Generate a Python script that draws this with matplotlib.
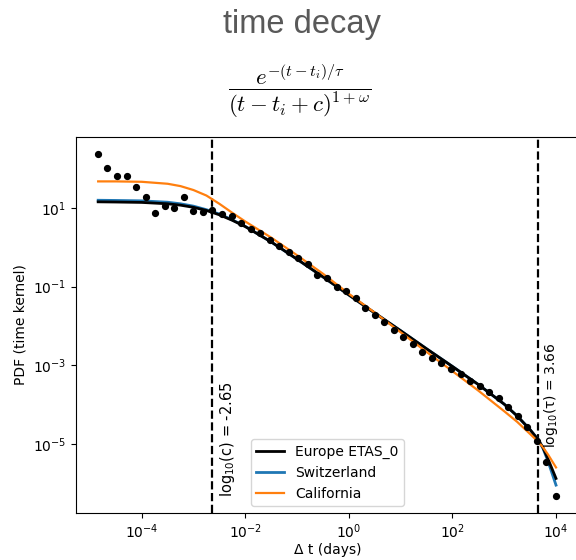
import numpy as np
import matplotlib
matplotlib.use("Agg")
import matplotlib.pyplot as plt

# ---------------- data (log10 values) ----------------
obs_logx = [-4.844, -4.660, -4.476, -4.291, -4.107, -3.923, -3.739, -3.554, -3.370,
            -3.186, -3.002, -2.817, -2.633, -2.449, -2.265, -2.080, -1.896, -1.712,
            -1.528, -1.343, -1.159, -0.975, -0.791, -0.606, -0.422, -0.238, -0.054,
            0.131, 0.315, 0.499, 0.683, 0.868, 1.052, 1.236, 1.420, 1.605, 1.789,
            1.973, 2.157, 2.342, 2.526, 2.710, 2.894, 3.079, 3.263, 3.447, 3.631,
            3.816, 4.000]
obs_logy = [2.37, 2.03, 1.82, 1.81, 1.54, 1.29, 0.865, 1.05, 1.01,
            1.29, 0.915, 0.90, 0.95, 0.85, 0.79, 0.63, 0.48, 0.355,
            0.20, 0.033, -0.12, -0.28, -0.43, -0.70, -0.78, -1.01, -1.10,
            -1.30, -1.55, -1.73, -1.90, -2.11, -2.28, -2.47, -2.66, -2.81, -2.93,
            -3.10, -3.23, -3.39, -3.52, -3.69, -3.84, -4.06, -4.28, -4.58, -4.92,
            -5.45, -6.32]

curve_logx = [-4.84, -4.5, -4.0, -3.5, -3.25, -3.0, -2.75, -2.5, -2.25, -2.0,
              -1.5, -1.0, -0.5, 0.0, 0.5, 1.0, 1.5, 2.0, 2.5, 3.0, 3.25, 3.5,
              3.66, 3.75, 3.85, 4.0]
europe_logy = [1.16, 1.155, 1.145, 1.11, 1.075, 1.02, 0.94, 0.83, 0.69, 0.53,
               0.14, -0.30, -0.75, -1.21, -1.67, -2.12, -2.58, -3.03, -3.49, -3.99,
               -4.29, -4.64, -4.90, -5.10, -5.40, -5.88]
swiss_logy = [1.20, 1.195, 1.185, 1.15, 1.11, 1.05, 0.96, 0.85, 0.70, 0.535,
              0.14, -0.30, -0.75, -1.21, -1.67, -2.12, -2.58, -3.03, -3.49, -3.99,
              -4.29, -4.64, -4.90, -5.12, -5.46, -6.05]
calif_logy = [1.68, 1.68, 1.67, 1.62, 1.56, 1.46, 1.32, 1.11, 0.88, 0.66,
              0.25, -0.20, -0.67, -1.18, -1.66, -2.16, -2.66, -3.15, -3.645, -4.17,
              -4.44, -4.75, -4.95, -5.09, -5.28, -5.60]

log_c = -2.65
log_tau = 3.66
series_labels = ["Europe ETAS_0", "Switzerland", "California"]

# ---------------- figure ----------------
fig = plt.figure(figsize=(5.76, 5.6), dpi=100)
ax = fig.add_axes([76 / 576, 1 - 513 / 560, (579 - 76) / 576, (513 - 137) / 560])

cx = np.power(10.0, curve_logx)
ax.plot(cx, np.power(10.0, europe_logy), color="black", lw=2, label=series_labels[0],
        zorder=2.3)
ax.plot(cx, np.power(10.0, swiss_logy), color="#1f77b4", lw=2, label=series_labels[1],
        zorder=2.2)
ax.plot(cx, np.power(10.0, calif_logy), color="#ff7f0e", lw=1.6, label=series_labels[2],
        zorder=2.4)
ax.plot(np.power(10.0, obs_logx), np.power(10.0, obs_logy), "o", color="black",
        ms=4.2, zorder=5)

ax.axvline(10 ** log_c, color="black", ls="--", lw=1.6)
ax.axvline(10 ** log_tau, color="black", ls="--", lw=1.6)

ax.set_xscale("log")
ax.set_yscale("log")
ax.set_xlim(10 ** -5.268, 10 ** 4.444)
ax.set_ylim(10 ** -6.76, 10 ** 2.81)
ax.set_xticks([1e-4, 1e-2, 1e0, 1e2, 1e4])
ax.set_yticks([1e1, 1e-1, 1e-3, 1e-5])
ax.xaxis.set_minor_locator(matplotlib.ticker.NullLocator())
ax.yaxis.set_minor_locator(matplotlib.ticker.NullLocator())
ax.tick_params(labelsize=10)

ax.text(10 ** -2.52, 10 ** -6.35, r"log$_{10}$(c) = %.2f" % log_c, rotation=90,
        ha="left", va="bottom", fontsize=10.5)
ax.text(10 ** 3.72, 10 ** -5.10, r"log$_{10}$(τ) = %.2f" % log_tau, rotation=90,
        ha="left", va="bottom", fontsize=10)

ax.set_xlabel("Δ t (days)", fontsize=10, labelpad=1)
ax.set_ylabel("PDF (time kernel)", fontsize=10)
ax.legend(loc="lower center", fontsize=10, bbox_to_anchor=(0.5, 0.0))

fig.text(301.5 / 576, 1 - 33 / 560, "time decay", fontsize=23.5, color="#595959",
         family="Liberation Sans", ha="center", va="baseline")
fig.text(300 / 576, 1 - 91 / 560,
         r"$\dfrac{e^{-(t-t_i)/\tau}}{(t-t_i+c)^{1+\omega}}$",
         fontsize=16.5, ha="center", va="center", math_fontfamily="cm")

fig.savefig("out.png", dpi=100)
